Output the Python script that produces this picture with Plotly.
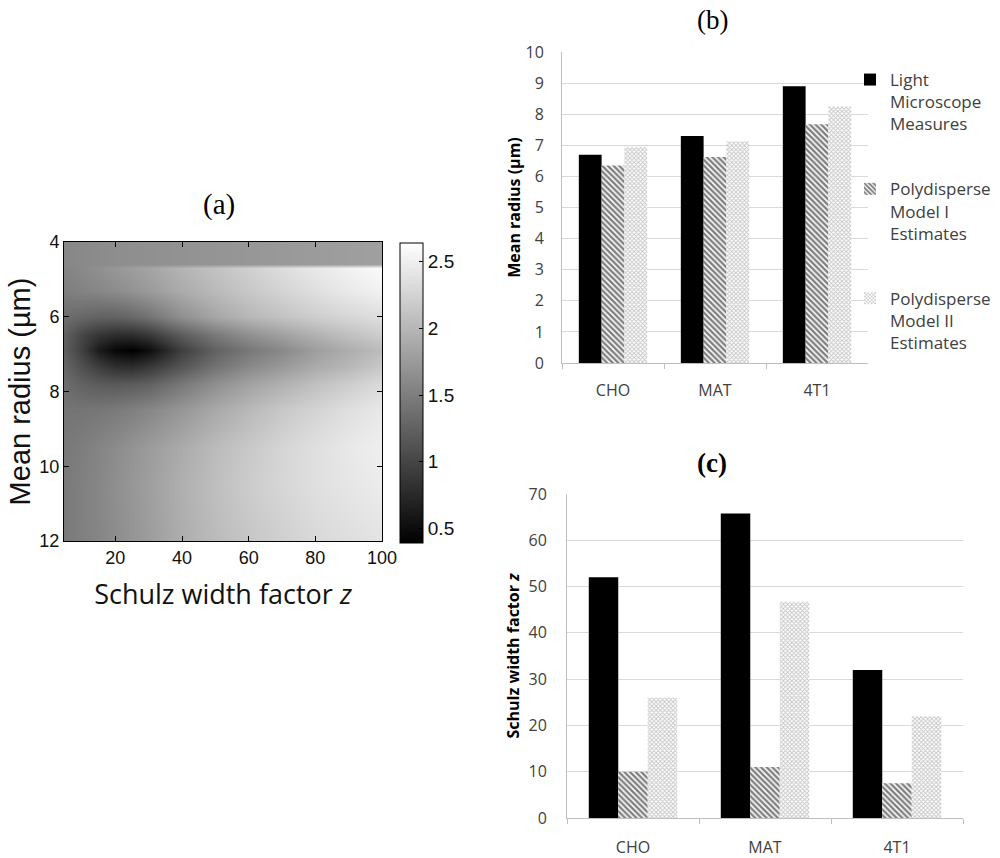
import plotly.graph_objects as go

# ---------- (a) heatmap data ----------
z_x = [4.6, 10, 15, 20, 25, 30, 40, 50, 60, 70, 80, 90, 100]
r_y = [4.0, 4.6, 4.7, 5.3, 6.0, 6.5, 6.9, 7.3, 7.8, 8.5, 9.5, 10.5, 12.0]
obj_row_4_0 = [1.58, 1.60, 1.62, 1.64, 1.65, 1.66, 1.68, 1.70, 1.72, 1.74, 1.76, 1.78, 1.80]
obj_row_4_6 = [1.58, 1.60, 1.62, 1.64, 1.65, 1.66, 1.68, 1.70, 1.72, 1.74, 1.76, 1.78, 1.80]
obj_row_4_7 = [1.55, 1.60, 1.66, 1.72, 1.78, 1.84, 1.98, 2.10, 2.22, 2.34, 2.44, 2.52, 2.60]
obj_row_5_3 = [1.50, 1.54, 1.58, 1.62, 1.68, 1.75, 1.90, 2.03, 2.15, 2.26, 2.36, 2.45, 2.52]
obj_row_6_0 = [1.35, 1.30, 1.25, 1.25, 1.30, 1.40, 1.65, 1.85, 2.00, 2.10, 2.20, 2.28, 2.35]
obj_row_6_5 = [1.25, 1.00, 0.85, 0.78, 0.78, 0.88, 1.20, 1.45, 1.65, 1.80, 1.95, 2.08, 2.20]
obj_row_6_9 = [1.22, 0.95, 0.62, 0.45, 0.39, 0.50, 0.95, 1.25, 1.45, 1.60, 1.78, 1.92, 2.05]
obj_row_7_3 = [1.28, 1.08, 0.90, 0.78, 0.75, 0.85, 1.12, 1.38, 1.58, 1.72, 1.88, 2.00, 2.15]
obj_row_7_8 = [1.35, 1.25, 1.20, 1.18, 1.20, 1.25, 1.45, 1.65, 1.82, 1.95, 2.08, 2.20, 2.32]
obj_row_8_5 = [1.42, 1.42, 1.44, 1.47, 1.52, 1.58, 1.72, 1.88, 2.02, 2.15, 2.26, 2.36, 2.44]
obj_row_9_5 = [1.45, 1.50, 1.56, 1.62, 1.69, 1.76, 1.90, 2.04, 2.16, 2.27, 2.36, 2.44, 2.50]
obj_row_10_5 = [1.46, 1.52, 1.58, 1.65, 1.72, 1.79, 1.94, 2.07, 2.19, 2.28, 2.36, 2.42, 2.47]
obj_row_12_0 = [1.46, 1.52, 1.57, 1.63, 1.70, 1.77, 1.92, 2.04, 2.14, 2.22, 2.30, 2.35, 2.40]
obj_z = [obj_row_4_0, obj_row_4_6, obj_row_4_7, obj_row_5_3, obj_row_6_0, obj_row_6_5,
         obj_row_6_9, obj_row_7_3, obj_row_7_8, obj_row_8_5, obj_row_9_5, obj_row_10_5,
         obj_row_12_0]

# ---------- (b), (c) bar data ----------
cells = ["CHO", "MAT", "4T1"]
radius_light = [6.7, 7.3, 8.9]
radius_model1 = [6.35, 6.62, 7.68]
radius_model2 = [6.95, 7.12, 8.25]
zfac_light = [52, 65.8, 32]
zfac_model1 = [10, 11, 7.5]
zfac_model2 = [26, 46.7, 22]

series_names = ["Light<br>Microscope<br>Measures",
                "Polydisperse<br>Model I<br>Estimates",
                "Polydisperse<br>Model II<br>Estimates"]

W, H = 1000, 858
def dx(a, b):
    return [a / W, b / W]
def dy(top, bottom):
    return [1 - bottom / H, 1 - top / H]

fig = go.Figure()

fig.add_trace(go.Heatmap(
    x=z_x, y=r_y, z=obj_z, zsmooth="best",
    colorscale=[[0, "#000000"], [1, "#ffffff"]], zmin=0.39, zmax=2.64,
    xaxis="x", yaxis="y", showscale=True,
    colorbar=dict(x=400 / W, xanchor="left", xpad=0, ypad=0,
                  y=1 - 393 / H, yanchor="middle",
                  len=300 / H, lenmode="fraction", thickness=23,
                  outlinecolor="#000", outlinewidth=1,
                  tickvals=[0.5, 1, 1.5, 2, 2.5], ticktext=["0.5", "1", "1.5", "2", "2.5"],
                  ticks="inside", ticklen=4, tickcolor="#000",
                  tickfont=dict(family="Liberation Sans", size=19, color="#111")),
))

styles = [
    dict(color="#000000"),
    dict(color="#ffffff", pattern=dict(shape="\\", fgcolor="#000000", bgcolor="#ffffff",
                                       size=4, solidity=0.6, fillmode="overlay")),
    dict(color="#ffffff", pattern=dict(shape="x", fgcolor="#8a8a8a", bgcolor="#ffffff",
                                       size=3, solidity=0.5, fillmode="overlay")),
]
b_vals = [radius_light, radius_model1, radius_model2]
c_vals = [zfac_light, zfac_model1, zfac_model2]
for i in range(3):
    fig.add_trace(go.Bar(x=cells, y=b_vals[i], name=series_names[i], marker=styles[i],
                         xaxis="x2", yaxis="y2", legendgroup=f"g{i}", showlegend=True))
for i in range(3):
    fig.add_trace(go.Bar(x=cells, y=c_vals[i], name=series_names[i], marker=styles[i],
                         xaxis="x3", yaxis="y3", legendgroup=f"g{i}", showlegend=False))

bar_tick = dict(family="Open Sans", size=16, color="#404040")
grid = "#d9d9d9"

fig.update_layout(
    template="none",
    width=W, height=H, margin=dict(l=0, r=0, t=0, b=0, autoexpand=False),
    paper_bgcolor="white", plot_bgcolor="white",
    barmode="group", bargap=0.33, bargroupgap=0,
    xaxis=dict(domain=dx(64, 382), anchor="y", range=[4.6, 100], tickvals=[20, 40, 60, 80, 100],
               automargin=False,
               ticks="inside", ticklen=5, tickcolor="#000", mirror="ticks",
               showline=True, linecolor="#000", linewidth=1, showgrid=False, zeroline=False,
               tickfont=dict(family="Liberation Sans", size=18, color="#111"),
               title=dict(text="Schulz width factor <i>z</i>",
                          font=dict(family="Open Sans", size=27, color="#111"), standoff=18)),
    yaxis=dict(domain=dy(242, 541), anchor="x", range=[12, 4], tickvals=[4, 6, 8, 10, 12],
               automargin=False,
               ticks="inside", ticklen=5, tickcolor="#000", mirror="ticks",
               showline=True, linecolor="#000", linewidth=1, showgrid=False, zeroline=False,
               tickfont=dict(family="Liberation Sans", size=18, color="#111"),
               title=dict(text="Mean radius (µm)",
                          font=dict(family="Liberation Sans", size=29, color="#111"), standoff=0)),
    xaxis2=dict(domain=dx(562, 868), anchor="y2", showline=True, linecolor="#bfbfbf",
                automargin=False,
                ticks="outside", tickson="boundaries", ticklen=5, tickcolor="#bfbfbf",
                ticklabelstandoff=13, tickfont=bar_tick, showgrid=False),
    yaxis2=dict(domain=dy(52, 363), anchor="x2", range=[0, 10], dtick=1, showgrid=True,
                automargin=False,
                gridcolor=grid, showline=True, linecolor="#bfbfbf", zeroline=False, ticks="",
                ticklabelstandoff=14, tickfont=bar_tick,
                title=dict(text="<b>Mean radius (µm)</b>",
                           font=dict(family="Open Sans", size=16, color="#000"), standoff=0)),
    xaxis3=dict(domain=dx(567, 963), anchor="y3", showline=True, linecolor="#bfbfbf",
                automargin=False,
                ticks="outside", tickson="boundaries", ticklen=5, tickcolor="#bfbfbf",
                ticklabelstandoff=15, tickfont=bar_tick, showgrid=False),
    yaxis3=dict(domain=dy(494, 818), anchor="x3", range=[0, 70], dtick=10, showgrid=True,
                automargin=False,
                gridcolor=grid, showline=True, linecolor="#bfbfbf", zeroline=False, ticks="",
                ticklabelstandoff=16, tickfont=bar_tick,
                title=dict(text="<b>Schulz width factor <i>z</i></b>",
                           font=dict(family="Open Sans", size=16, color="#000"), standoff=4)),
    legend=dict(x=850 / W, y=1 - 62 / H, xanchor="left", yanchor="top",
                font=dict(family="Open Sans", size=17, color="#404040"),
                tracegroupgap=40, valign="top", bgcolor="rgba(0,0,0,0)",
                itemwidth=30),
    annotations=[
        dict(text="(a)", x=219 / W, y=1 - 205 / H, xref="paper", yref="paper",
             xanchor="center", yanchor="middle",
             showarrow=False, font=dict(family="Liberation Serif", size=29, color="#000")),
        dict(text="(b)", x=712 / W, y=1 - 20 / H, xref="paper", yref="paper",
             xanchor="center", yanchor="middle",
             showarrow=False, font=dict(family="Liberation Serif", size=27, color="#000")),
        dict(text="<b>(c)</b>", x=712 / W, y=1 - 463 / H, xref="paper", yref="paper",
             xanchor="center", yanchor="middle",
             showarrow=False, font=dict(family="Liberation Serif", size=27, color="#000")),
    ],
)

fig.write_html("out.html")
